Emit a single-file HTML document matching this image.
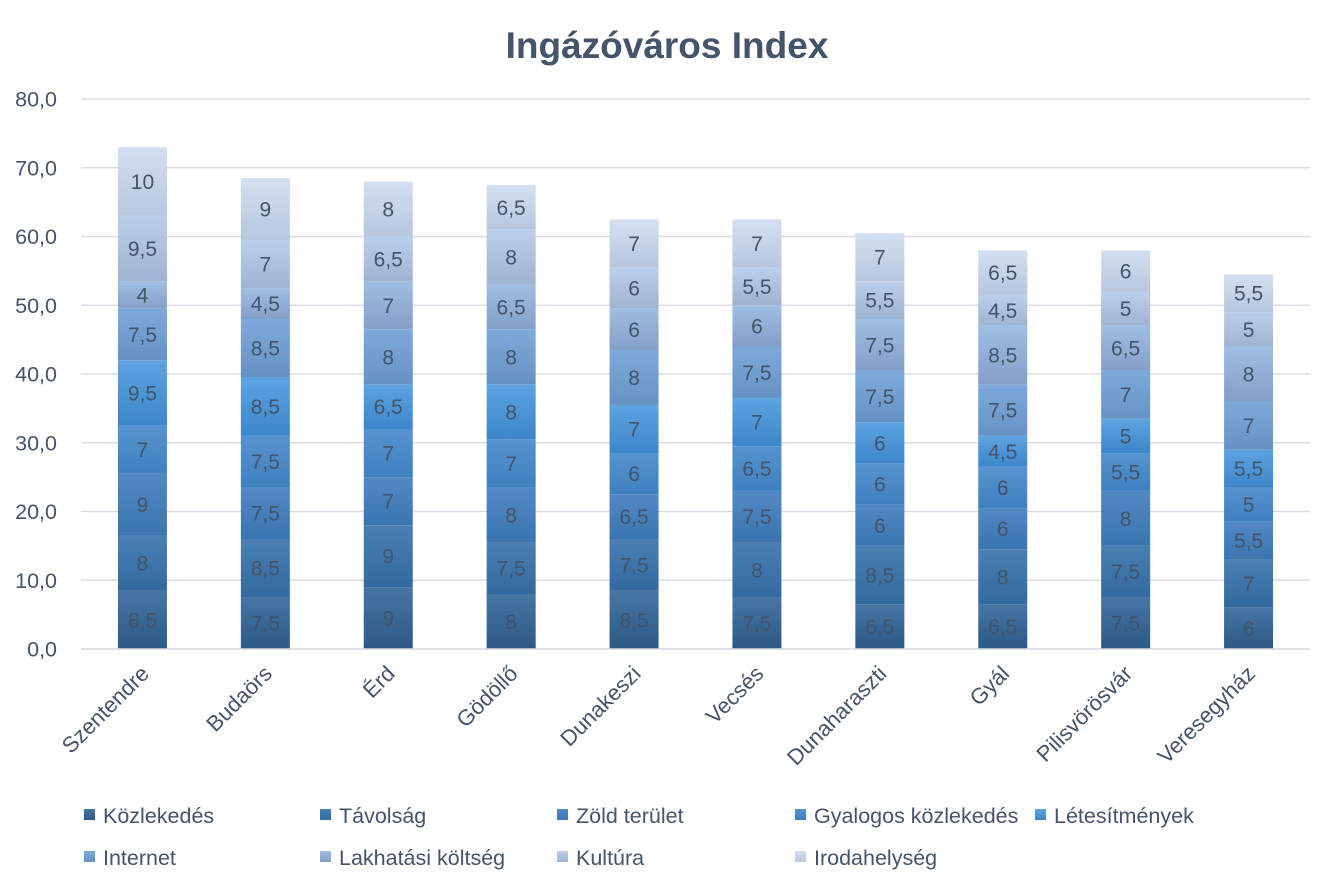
<!DOCTYPE html>
<html><head><meta charset="utf-8">
<style>
html,body{margin:0;padding:0;background:#fff;}
svg{display:block;font-family:"Liberation Sans",sans-serif;}
</style></head>
<body>
<svg id="s" width="1334" height="889" xmlns="http://www.w3.org/2000/svg">
<defs id="d"></defs>
<text x="667" y="58" text-anchor="middle" font-size="37" font-weight="bold" fill="#44546a">Ingázóváros Index</text>
</svg>
<script>
const s=document.getElementById('s'),d=document.getElementById('d');
const NS='http://www.w3.org/2000/svg';
function el(t,a,txt){const e=document.createElementNS(NS,t);for(const k in a)e.setAttribute(k,a[k]);if(txt!=null)e.textContent=txt;return e;}
const cols=[['#4776a5','#2c5986'],['#4a7fb4','#336a9f'],['#5189c4','#3a75b0'],['#5793d0','#3f80bf'],['#5ea3e2','#3c86c9'],['#7eaadb','#6592c4'],['#a0bde2','#849fc8'],['#bccfea','#9fb3d2'],['#d4e0f1','#b7c6de']];
cols.forEach((c,i)=>{const g=el('linearGradient',{id:'g'+i,x1:0,y1:0,x2:0,y2:1});g.appendChild(el('stop',{offset:0,'stop-color':c[0]}));g.appendChild(el('stop',{offset:1,'stop-color':c[1]}));d.appendChild(g);});
const data=[['Szentendre',[8.5,8,9,7,9.5,7.5,4,9.5,10]],['Budaörs',[7.5,8.5,7.5,7.5,8.5,8.5,4.5,7,9]],['Érd',[9,9,7,7,6.5,8,7,6.5,8]],['Gödöllő',[8,7.5,8,7,8,8,6.5,8,6.5]],['Dunakeszi',[8.5,7.5,6.5,6,7,8,6,6,7]],['Vecsés',[7.5,8,7.5,6.5,7,7.5,6,5.5,7]],['Dunaharaszti',[6.5,8.5,6,6,6,7.5,7.5,5.5,7]],['Gyál',[6.5,8,6,6,4.5,7.5,8.5,4.5,6.5]],['Pilisvörösvár',[7.5,7.5,8,5.5,5,7,6.5,5,6]],['Veresegyház',[6,7,5.5,5,5.5,7,8,5,5.5]]];
const y0=649,k=6.875,x0=81,cw=122.9;
for(let i=0;i<=8;i++){const y=y0-i*10*k;s.appendChild(el('line',{x1:x0,x2:1310,y1:y,y2:y,stroke:'#d9dde3','stroke-width':1.5}));
s.appendChild(el('text',{x:57,y:y+7.5,'text-anchor':'end','font-size':21.5,fill:'#44546a'},(i*10).toFixed(1).replace('.',',')));}
data.forEach((r,j)=>{const cx=x0+cw*(j+0.5);let acc=0;
r[1].forEach((v,i)=>{const yt=y0-(acc+v)*k,yb=y0-acc*k;acc+=v;
s.appendChild(el('rect',{x:cx-24.5,y:yt,width:49,height:yb-yt,fill:'url(#g'+i+')'}));
s.appendChild(el('text',{x:cx,y:(yt+yb)/2+7.5,'text-anchor':'middle','font-size':21,fill:'#44546a'},String(v).replace('.',',')));});
s.appendChild(el('text',{x:0,y:0,'text-anchor':'end','font-size':22,fill:'#44546a',transform:`translate(${cx+8},${675}) rotate(-45)`},r[0]));});
s.appendChild(el('line',{x1:x0,x2:1310,y1:y0,y2:y0,stroke:'#d9dde3','stroke-width':1.5}));
const leg=['Közlekedés','Távolság','Zöld terület','Gyalogos közlekedés','Létesítmények','Internet','Lakhatási költség','Kultúra','Irodahelység'];
const lx=[84,320,557,795,1035];
leg.forEach((t,i)=>{const r=Math.floor(i/5),c=i%5;const x=lx[c],y=r?857:815;
s.appendChild(el('rect',{x:x,y:y-6,width:11,height:11,fill:'url(#g'+i+')'}));
s.appendChild(el('text',{x:x+19,y:y+8,'font-size':21.5,fill:'#44546a'},t));});
</script>
</body></html>
